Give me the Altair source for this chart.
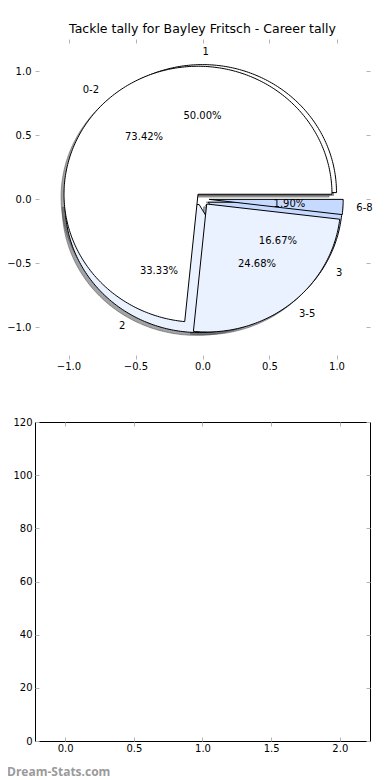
import math
import pandas as pd
import altair as alt

# ---------------- data ----------------
TITLE = "Tackle tally for Bayley Fritsch - Career tally"
inner_labels = ["1", "2", "3"]
inner_counts = [3, 2, 1]
outer_labels = ["0-2", "3-5", "6-8"]
outer_counts = [116, 39, 3]
wedge_colors = ["#ffffff", "#eaf1ff", "#c6d9ff"]
explode = [0.05, 0.05, 0.05]
pie_ticks = [-1.0, -0.5, 0.0, 0.5, 1.0]
bar_x_ticks = [0.0, 0.5, 1.0, 1.5, 2.0]
bar_y_ticks = [0, 20, 40, 60, 80, 100, 120]
watermark = "Dream-Stats.com"

FONT = "DejaVu Sans"
SHADOW = 0.022
PLOT_W = 335


def shade(hexcol):
    r, g, b = (int(hexcol[k:k + 2], 16) for k in (1, 3, 5))
    return "#%02x%02x%02x" % (round(r * 0.3), round(g * 0.3), round(b * 0.3))


def build_pie(pie, labels, counts):
    total = sum(counts)
    poly, labs, pcts = [], [], []
    start = 0.0
    for i, (lab, c) in enumerate(zip(labels, counts)):
        span = 360.0 * c / total
        mid = math.radians(start + span / 2)
        cx, cy = explode[i] * math.cos(mid), explode[i] * math.sin(mid)
        n = max(2, int(math.ceil(span)))
        pts = [(cx, cy)]
        for k in range(n + 1):
            t = math.radians(start + span * k / n)
            pts.append((cx + math.cos(t), cy + math.sin(t)))
        pts.append((cx, cy))
        for j, (x, y) in enumerate(pts):
            poly.append({"wedge": f"{pie}-{i}", "i": j, "x": x, "y": y,
                         "fill": wedge_colors[i], "sfill": shade(wedge_colors[i])})
        lx = cx + 1.1 * math.cos(mid)
        ly = cy + 1.1 * math.sin(mid)
        labs.append({"x": lx, "y": ly, "text": lab, "side": "left" if lx > 0 else "right"})
        pcts.append({"x": cx + 0.6 * math.cos(mid), "y": cy + 0.6 * math.sin(mid),
                     "text": f"{100.0 * c / total:.2f}%"})
        start += span
    return poly, labs, pcts


p1, l1, t1 = build_pie("inner", inner_labels, inner_counts)
p2, l2, t2 = build_pie("outer", outer_labels, outer_counts)
pie1 = pd.DataFrame(p1)
pie2 = pd.DataFrame(p2)
shadows = pd.concat([pie1, pie2], ignore_index=True)
shadows["wedge"] = "s-" + shadows["wedge"]
shadows["x"] = shadows["x"] - SHADOW
shadows["y"] = shadows["y"] - SHADOW
labels = pd.DataFrame(l1 + l2)
pcts = pd.DataFrame(t1 + t2)

# ---------------- axes helpers ----------------
TICK_GRAY = "#b4b4b4"


def ax(orient, values, fmt, show_labels=True, pad=3):
    kw = dict(orient=orient, values=values, title=None, domain=False, grid=False,
              ticks=True, tickSize=4, offset=-4, tickColor=TICK_GRAY, tickWidth=1,
              labels=show_labels, labelFlush=False, labelOverlap=False)
    if show_labels:
        kw.update(format=fmt, labelFont=FONT, labelFontSize=10, labelColor="black",
                  labelPadding=pad)
    return alt.Axis(**kw)


xs_pie = alt.Scale(domain=[-1.25, 1.25], nice=False, zero=False)
ys_pie = alt.Scale(domain=[-1.25, 1.25], nice=False, zero=False)

shadow_layer = alt.Chart(shadows).mark_line(
    fillOpacity=0.5, strokeOpacity=0.5, strokeWidth=1
).encode(
    x=alt.X("x:Q", scale=xs_pie, axis=ax("bottom", pie_ticks, ".1f", pad=2)),
    y=alt.Y("y:Q", scale=ys_pie, axis=ax("left", pie_ticks, ".1f", pad=4)),
    order=alt.Order("i:Q"),
    detail="wedge:N",
    fill=alt.Fill("sfill:N", scale=None),
    stroke=alt.Stroke("sfill:N", scale=None),
)

pie1_layer = alt.Chart(pie1).mark_line(stroke="black", strokeWidth=1).encode(
    x=alt.X("x:Q", scale=xs_pie, axis=ax("top", pie_ticks, ".1f", show_labels=False)),
    y=alt.Y("y:Q", scale=ys_pie, axis=ax("right", pie_ticks, ".1f", show_labels=False)),
    order=alt.Order("i:Q"),
    detail="wedge:N",
    fill=alt.Fill("fill:N", scale=None),
)

pie2_layer = alt.Chart(pie2).mark_line(stroke="black", strokeWidth=1).encode(
    x=alt.X("x:Q", scale=xs_pie, axis=None),
    y=alt.Y("y:Q", scale=ys_pie, axis=None),
    order=alt.Order("i:Q"),
    detail="wedge:N",
    fill=alt.Fill("fill:N", scale=None),
)


def text_layer(df, align):
    return alt.Chart(df).mark_text(
        align=align, baseline="middle", font=FONT, fontSize=10, color="black"
    ).encode(
        x=alt.X("x:Q", scale=xs_pie, axis=None),
        y=alt.Y("y:Q", scale=ys_pie, axis=None),
        text="text:N",
    )


lab_left = text_layer(labels[labels["side"] == "left"], "left")
lab_right = text_layer(labels[labels["side"] == "right"], "right")
pct_layer = text_layer(pcts, "center")

top = alt.layer(shadow_layer, pie1_layer, pie2_layer, lab_left, lab_right, pct_layer).resolve_axis(
    x="independent", y="independent"
).properties(
    width=PLOT_W, height=320,
    title=alt.Title(TITLE, font=FONT, fontSize=12.5, fontWeight="normal", color="black",
                    anchor="middle", frame="group", offset=-7, baseline="alphabetic"),
    view=alt.ViewBackground(stroke="transparent"),
)

# ---------------- empty bottom axes ----------------
empty = pd.DataFrame({"x": pd.Series([], dtype=float), "y": pd.Series([], dtype=float)})
xs_bar = alt.Scale(domain=[-0.22, 2.22], nice=False, zero=False)
ys_bar = alt.Scale(domain=[0, 120], nice=False, zero=False)

bar_a = alt.Chart(empty).mark_point().encode(
    x=alt.X("x:Q", scale=xs_bar, axis=ax("bottom", bar_x_ticks, ".1f", pad=2)),
    y=alt.Y("y:Q", scale=ys_bar, axis=ax("left", bar_y_ticks, "d", pad=3)),
)
bar_b = alt.Chart(empty).mark_point().encode(
    x=alt.X("x:Q", scale=xs_bar, axis=ax("top", bar_x_ticks, ".1f", show_labels=False)),
    y=alt.Y("y:Q", scale=ys_bar, axis=ax("right", bar_y_ticks, "d", show_labels=False)),
)

bottom = alt.layer(bar_a, bar_b).resolve_axis(
    x="independent", y="independent"
).properties(
    width=PLOT_W, height=319,
    title=alt.Title(watermark, orient="bottom", anchor="start", frame="group", dx=-28,
                    offset=14, font="Open Sans", fontSize=12, fontWeight="bold",
                    color="#9a9a9a"),
    view=alt.ViewBackground(stroke="black", strokeWidth=1),
)

chart = alt.vconcat(top, bottom, spacing=63, bounds="flush").properties(
    padding={"left": -2, "top": 14, "right": 0, "bottom": 0},
).configure(background="white")

chart.save("out.html", embed_options={"renderer": "svg", "actions": False})
